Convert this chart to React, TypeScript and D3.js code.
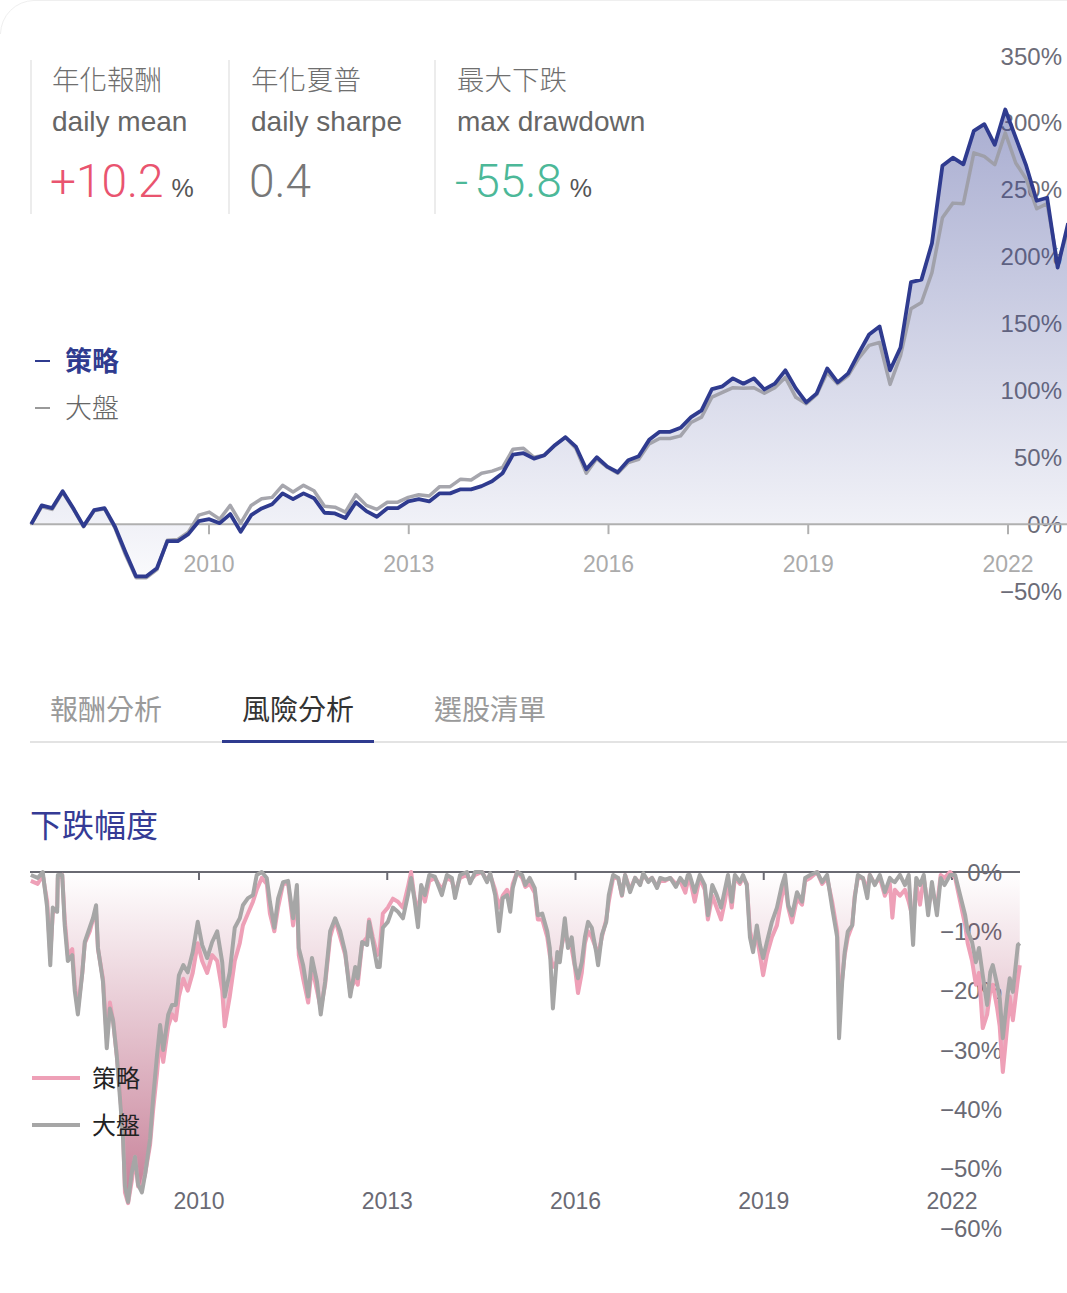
import React from 'react';
import * as d3 from 'd3';

// ---------- data ----------
const CUM_START = 2007.33; // first observation (fractional year)
const CUM_STEP = 0.1573; // spacing between observations (years)

const strategyCum = [
  0, 14, 12, 24.6, 12, -1.5, 10.4, 12, -2, -21,
  -39, -39, -33, -12.7, -12.7, -7.5, 2.2, 3.7, 0.7, 7.5,
  -5.7, 6.7, 11.7, 14.9, 23, 18.7, 23, 19.4, 8.5, 8,
  4.5, 16.4, 9.7, 5.5, 11.9, 11.9, 17, 18.7, 17, 23,
  23, 26, 26, 28.4, 32, 38, 52, 53, 49, 51.5,
  59, 65, 58, 41, 50, 43, 38.8, 47.8, 50.7, 63,
  69, 69, 72, 80, 85, 101, 103, 109, 105, 109,
  100.7, 105, 115, 101.5, 91, 97.8, 116.4, 106, 112.7, 127.6,
  141.8, 147.8, 115, 132, 181, 182.8, 210, 268, 274, 269,
  294, 299, 283.6, 310, 289, 268, 241.8, 244, 191.8, 225,
];

const benchmarkCum = [
  0, 13, 11, 24, 11.5, -2, 10, 11.5, -3, -23,
  -40, -40, -34, -12, -11.5, -6, 6.7, 9, 3.7, 14,
  0.7, 14, 19, 20, 29, 24, 29, 25, 13.4, 12.7,
  9, 22, 14, 11, 16.4, 16.4, 20, 22, 21, 28,
  28, 33.6, 33, 38, 39.6, 42.5, 56, 56.7, 50, 51.5,
  59, 65, 56.7, 38, 49, 42.5, 38, 46, 48.5, 60,
  64, 64, 66, 76, 80, 95, 98.5, 102, 101.5, 102,
  97.8, 102, 109.7, 94.8, 90, 97, 113.4, 105, 111, 123.9,
  133.6, 135.8, 104.5, 126, 161, 165.7, 188, 229, 240, 239.6,
  277.6, 275, 268.7, 292.5, 270, 258, 235.8, 239.6, 195, 220,
];

const cumTicksY = [350, 300, 250, 200, 150, 100, 50, 0, -50];
const yearTicks = [2010, 2013, 2016, 2019, 2022];

const ddYears = [
  2007.32, 2007.43, 2007.51, 2007.58, 2007.63, 2007.67, 2007.74, 2007.75, 2007.82, 2007.86,
  2007.91, 2007.98, 2008.02, 2008.07, 2008.14, 2008.18, 2008.26, 2008.31, 2008.36, 2008.39,
  2008.47, 2008.53, 2008.58, 2008.63, 2008.69, 2008.74, 2008.79, 2008.82, 2008.87, 2008.93,
  2008.98, 2009.03, 2009.09, 2009.14, 2009.22, 2009.27, 2009.33, 2009.38, 2009.43, 2009.51,
  2009.57, 2009.63, 2009.68, 2009.75, 2009.82, 2009.9, 2009.98, 2010.05, 2010.13, 2010.21,
  2010.29, 2010.37, 2010.41, 2010.49, 2010.57, 2010.65, 2010.7, 2010.78, 2010.86, 2010.92,
  2011.0, 2011.08, 2011.13, 2011.2, 2011.26, 2011.34, 2011.42, 2011.5, 2011.56, 2011.59,
  2011.66, 2011.74, 2011.8, 2011.88, 2011.94, 2012.01, 2012.09, 2012.17, 2012.25, 2012.33,
  2012.41, 2012.49, 2012.53, 2012.6, 2012.68, 2012.71, 2012.77, 2012.84, 2012.88, 2012.93,
  2013.01, 2013.09, 2013.17, 2013.25, 2013.33, 2013.38, 2013.43, 2013.49, 2013.54, 2013.6,
  2013.67, 2013.76, 2013.87, 2013.95, 2014.03, 2014.08, 2014.16, 2014.27, 2014.32, 2014.4,
  2014.51, 2014.59, 2014.64, 2014.72, 2014.78, 2014.84, 2014.91, 2014.96, 2015.0, 2015.07,
  2015.15, 2015.2, 2015.27, 2015.35, 2015.4, 2015.47, 2015.55, 2015.59, 2015.64, 2015.71,
  2015.75, 2015.83, 2015.88, 2015.94, 2015.99, 2016.04, 2016.1, 2016.15, 2016.2, 2016.26,
  2016.33, 2016.36, 2016.42, 2016.49, 2016.53, 2016.6, 2016.68, 2016.74, 2016.79, 2016.87,
  2016.95, 2017.03, 2017.08, 2017.16, 2017.22, 2017.3, 2017.35, 2017.43, 2017.51, 2017.6,
  2017.67, 2017.75, 2017.79, 2017.82, 2017.9, 2017.98, 2018.06, 2018.11, 2018.18, 2018.25,
  2018.32, 2018.38, 2018.43, 2018.49, 2018.54, 2018.62, 2018.67, 2018.73, 2018.78, 2018.83,
  2018.89, 2018.94, 2018.99, 2019.05, 2019.13, 2019.21, 2019.29, 2019.34, 2019.39, 2019.45,
  2019.53, 2019.61, 2019.66, 2019.74, 2019.85, 2019.93, 2020.01, 2020.09, 2020.17, 2020.2,
  2020.25, 2020.29, 2020.34, 2020.41, 2020.45, 2020.5, 2020.58, 2020.65, 2020.69, 2020.77,
  2020.85, 2020.93, 2021.01, 2021.05, 2021.09, 2021.17, 2021.25, 2021.31, 2021.38, 2021.43,
  2021.49, 2021.55, 2021.62, 2021.68, 2021.76, 2021.82, 2021.88, 2021.97, 2022.05, 2022.13,
  2022.21, 2022.25, 2022.32, 2022.38, 2022.43, 2022.49, 2022.56, 2022.61, 2022.65, 2022.72,
  2022.76, 2022.81, 2022.88, 2022.92, 2022.97, 2023.05, 2023.08,
];

const benchmarkDD = [
  -0.5, -1, 0, -6, -15.7, -6, -6.7, -0.5, -0.5, -9,
  -15, -14, -20, -24, -17, -11.8, -9.3, -7.8, -5.6, -12.8,
  -18.5, -29.7, -23, -25, -31, -38, -45, -53, -55.6, -50.6,
  -48, -52.7, -54, -51, -45, -38, -31, -25.8, -30, -24,
  -22.4, -22.4, -17.4, -15.7, -16.9, -13.5, -8.4, -12.3, -14.5, -11.8,
  -10, -15.2, -21, -16.9, -9.4, -7.8, -5.6, -4.4, -3.9, -0.5,
  0, -1, -5, -9.4, -4.5, -1.7, -1.5, -7.8, -2.2, -12.8,
  -15.7, -21, -14.5, -18.5, -24, -18.5, -10, -7.8, -10, -13.5,
  -21, -16, -17.9, -11.8, -12.3, -8.4, -11.8, -16, -16, -9.4,
  -8.4, -6, -6.7, -7.8, -3.9, -1, -4.4, -9.3, -2.2, -3.9,
  -0.5, -0.8, -3.9, -0.5, -1, -4.4, -0.5, 0, -1.9, 0,
  0, -1.7, -0.2, -3.9, -10, -4.4, -3.9, -6.7, -2.7, 0,
  -0.5, -2.2, -1, -2.7, -7.3, -7, -10, -12.8, -23, -13.5,
  -15.2, -7.8, -12.8, -11, -15.7, -17.9, -15.2, -11, -8.4, -9.4,
  -13.5, -15.7, -10.6, -8.4, -3.9, -0.5, -1, -3.9, -0.5, -3.4,
  -1, -2.2, -0.2, -1.7, -1, -2.7, -1, -1.3, -1, -2.5,
  -1, -2.2, -0.5, -0.5, -3.4, -0.5, -2.2, -7.3, -2.2, -3.9,
  -6, -3, -0.5, -5, -0.5, -1.7, -0.5, -2.2, -11, -13.5,
  -9, -12.3, -14.5, -11.8, -8.4, -6, -2.2, -0.5, -5.6, -7.3,
  -3.4, -5, -1, -0.5, 0, -1.7, -0.5, -6, -11, -28,
  -18.5, -13.5, -10, -9, -4.4, -0.5, -1, -4.4, -0.5, -2.2,
  -0.5, -3.4, -1, -1.5, -1.7, -0.5, -2.2, -0.5, -12.3, -1,
  -2.2, -0.5, -7.3, -1.7, -7.3, -1, -2.2, -0.5, -0.5, -3.9,
  -7.3, -10, -11.8, -15.2, -12.8, -17.4, -22.4, -16.9, -15.7, -19,
  -21.2, -28, -21.2, -17.9, -20.2, -12.3, -12,
];

const strategyDD = [
  -1.5, -2, -0.5, -5, -14, -7, -6, -1, -0.5, -8,
  -14, -13, -19, -23, -17, -12, -10, -8, -7, -13,
  -18, -28, -22, -25, -31, -37, -44, -54, -55.8, -52,
  -48, -53, -53, -51, -46, -40, -34, -28, -32, -26,
  -24, -25, -21, -18, -20, -17, -12, -15, -17, -14,
  -15, -20, -26, -21, -15, -12, -9, -7, -5, -3,
  -1, -2, -7, -10, -6, -2, -2, -9, -3, -14,
  -18, -22, -16, -20, -23, -19, -11, -8, -11, -14,
  -20, -18, -19, -12, -11, -8, -11, -14, -13, -7,
  -6, -4.5, -5, -6, -2.5, 0, -4, -7, -3, -5,
  -1.5, -1, -3, -1, -1.5, -3.5, -1, -0.5, -1.5, -0.5,
  0, -1.5, -0.5, -3, -6, -4, -3, -5, -2, 0,
  -1, -2.5, -2, -3.5, -8, -8, -11, -14, -16, -15,
  -14, -10, -12, -13, -16, -20.4, -17, -12, -10, -11,
  -13, -14, -11, -8, -5, -1, -1, -4, -0.5, -3,
  -1, -2, -0.5, -1.5, -1, -2.5, -1.5, -1.5, -1, -2,
  -1.5, -3.5, -1.5, -1, -5, -1, -3, -8, -4, -6,
  -8, -5, -1.5, -6, -1, -2, -1, -2, -10, -12,
  -11, -14, -17.4, -14, -11, -9, -4, -2, -6, -8.5,
  -4.5, -5.5, -1.5, -1, 0, -2, -1, -5, -10, -22,
  -18, -14, -11, -9, -4, -1, -1, -3, -0.5, -2,
  -1, -4, -2, -7.7, -3, -4, -3, -5, -8, -2,
  -5.5, -1, -6, -3, -6, -0.5, -1, 0, -1, -5,
  -9, -12, -15, -19, -17, -26.3, -24, -20, -19, -23,
  -26, -33.7, -26, -21, -25, -18, -15.7,
];

const ddTicksY = [0, -10, -20, -30, -40, -50, -60];

const statLabelsZh = ['年化報酬', '年化夏普', '最大下跌'];
const statLabelsEn = ['daily mean', 'daily sharpe', 'max drawdown'];
const statValues = ['+10.2', '0.4', '-55.8'];
const statUnits = ['%', '', '%'];
const tabLabels = ['報酬分析', '風險分析', '選股清單'];
const seriesNames = ['策略', '大盤'];
const ddTitle = '下跌幅度';

// ---------- styling ----------
const FONT = '"Liberation Sans", "Noto Sans CJK TC", sans-serif';
const CJK = '"Noto Sans CJK TC", "Liberation Sans", sans-serif';
const NUM = 'Roboto, "Liberation Sans", sans-serif';
const BLUE = '#2f3b8f';
const GRAY_LINE = '#a6a6a6';
const PINK = '#eea0b7';
const statColors = ['#e9546f', '#777777', '#4cb898'];

const pct = (v: number) => (v < 0 ? '\u2212' + Math.abs(v) : String(v)) + '%';

export default function App() {
  const W = 1067;
  const H = 1293;

  // top cumulative chart
  const xTop = d3.scaleLinear().domain([2010, 2022]).range([209, 1008]);
  const yTop = d3.scaleLinear().domain([-50, 350]).range([591, 56]);
  const cumYears = strategyCum.map((_, i) => CUM_START + i * CUM_STEP);
  const lineTop = d3
    .line<number>()
    .x((_, i) => xTop(cumYears[i]))
    .y((d) => yTop(d));
  const areaTop = d3
    .area<number>()
    .x((_, i) => xTop(cumYears[i]))
    .y0(yTop(0))
    .y1((d) => yTop(d));

  // drawdown chart
  const xDD = d3.scaleLinear().domain([2010, 2022]).range([199, 952]);
  const yDD = d3.scaleLinear().domain([-60, 0]).range([1228, 872]);
  const lineDD = d3
    .line<number>()
    .x((_, i) => xDD(ddYears[i]))
    .y((d) => yDD(d));
  const areaDD = d3
    .area<number>()
    .x((_, i) => xDD(ddYears[i]))
    .y0(yDD(0))
    .y1((d) => yDD(d));

  const statX = [52, 251, 457];
  const sepX = [31, 229, 435];
  const tabX = [50, 242, 434];

  const renderValue = (t: string) => {
    if (t.startsWith('-')) {
      return (
        <>
          <tspan>-</tspan>
          <tspan dx={6}>{t.slice(1)}</tspan>
        </>
      );
    }
    return t;
  };

  return (
    <div
      style={{
        position: 'absolute',
        left: 0,
        top: 0,
        width: W,
        height: H,
        overflow: 'hidden',
        background: '#fff',
      }}
    >
      <svg width={W} height={H} style={{ display: 'block', fontFamily: FONT }}>
        <defs>
          <linearGradient id="gTop" gradientUnits="userSpaceOnUse" x1="0" y1={yTop(350)} x2="0" y2={yTop(-50)}>
            <stop offset="0" stopColor="rgb(60,70,150)" stopOpacity={0.49} />
            <stop offset="1" stopColor="rgb(60,70,150)" stopOpacity={0.015} />
          </linearGradient>
          <linearGradient id="gDD" gradientUnits="userSpaceOnUse" x1="0" y1={yDD(0)} x2="0" y2={yDD(-60)}>
            <stop offset="0" stopColor="rgb(160,40,80)" stopOpacity={0} />
            <stop offset="1" stopColor="rgb(160,40,80)" stopOpacity={0.64} />
          </linearGradient>
        </defs>

        {/* card corner */}
        <path d="M0.5,34 A34,34 0 0 1 34,0.5 L1067,0.5" fill="none" stroke="#efefef" strokeWidth={1} />

        {/* stats */}
        {sepX.map((x, i) => (
          <line key={'sep' + i} x1={x} x2={x} y1={60} y2={214} stroke="#e6e6e6" strokeWidth={1.5} />
        ))}
        {statLabelsZh.map((t, i) => (
          <text key={'zh' + i} x={statX[i]} y={90} fontSize={27.5} fill="#6f6f6f" fontFamily={CJK} fontWeight={300}>
            {t}
          </text>
        ))}
        {statLabelsEn.map((t, i) => (
          <text key={'en' + i} x={statX[i]} y={131} fontSize={28} fill="#666">
            {t}
          </text>
        ))}
        {statValues.map((t, i) => (
          <text key={'v' + i} x={statX[i] - 2} y={197} fill={statColors[i]}>
            <tspan fontSize={46} fontFamily={NUM} fontWeight={300}>
              {renderValue(t)}
            </tspan>
            {statUnits[i] && (
              <tspan dx={8} fontSize={25} fill="#555">
                {statUnits[i]}
              </tspan>
            )}
          </text>
        ))}

        {/* top legend */}
        <line x1={35} x2={50} y1={361} y2={361} stroke={BLUE} strokeWidth={2} />
        <text x={65} y={371} fontSize={27} fill={BLUE} fontFamily={CJK} fontWeight={700}>
          {seriesNames[0]}
        </text>
        <line x1={35} x2={50} y1={408} y2={408} stroke="#777" strokeWidth={1.5} />
        <text x={65} y={418} fontSize={27} fill="#666" fontFamily={CJK} fontWeight={300}>
          {seriesNames[1]}
        </text>

        {/* top y labels */}
        {cumTicksY.map((v) => (
          <text key={'ty' + v} x={1062} y={yTop(v) + 8.5} textAnchor="end" fontSize={24} fill="#6c6c78">
            {pct(v)}
          </text>
        ))}

        {/* top area + lines */}
        <path d={areaTop(strategyCum) || ''} fill="url(#gTop)" />
        <line x1={30} x2={W} y1={yTop(0)} y2={yTop(0)} stroke="#b0b0b0" strokeWidth={2} />
        {yearTicks.map((yr) => (
          <g key={'tx' + yr}>
            <line x1={xTop(yr)} x2={xTop(yr)} y1={yTop(0)} y2={yTop(0) + 10} stroke="#b0b0b0" strokeWidth={2} />
            <text x={xTop(yr)} y={572} textAnchor="middle" fontSize={23} fill="#ababab">
              {yr}
            </text>
          </g>
        ))}
        <path
          d={lineTop(benchmarkCum) || ''}
          fill="none"
          stroke="#9c9ca4"
          strokeWidth={3.5}
          strokeLinejoin="round"
          strokeOpacity={0.9}
        />
        <path d={lineTop(strategyCum) || ''} fill="none" stroke={BLUE} strokeWidth={3.8} strokeLinejoin="round" />

        {/* tabs */}
        {tabLabels.map((t, i) => (
          <text
            key={'tab' + i}
            x={tabX[i]}
            y={720}
            fontSize={28}
            fontFamily={CJK}
            fill={i === 1 ? '#333' : '#9a9a9a'}
          >
            {t}
          </text>
        ))}
        <line x1={30} x2={W} y1={742} y2={742} stroke="#e3e3e3" strokeWidth={2} />
        <line x1={222} x2={374} y1={741.5} y2={741.5} stroke={BLUE} strokeWidth={3} />

        <text x={30} y={837} fontSize={32} fill="#353b95" fontFamily={CJK}>
          {ddTitle}
        </text>

        {/* drawdown y labels */}
        {ddTicksY.map((v) => (
          <text key={'dy' + v} x={1002} y={yDD(v) + 8.5} textAnchor="end" fontSize={24} fill="#6a6a74">
            {pct(v)}
          </text>
        ))}
        {yearTicks.map((yr) => (
          <text key={'dx' + yr} x={xDD(yr)} y={1209} textAnchor="middle" fontSize={23} fill="#6a6a74">
            {yr}
          </text>
        ))}

        {/* drawdown area + lines */}
        <path d={areaDD(strategyDD) || ''} fill="url(#gDD)" />
        <line x1={30} x2={1020} y1={yDD(0)} y2={yDD(0)} stroke="#6a6a72" strokeWidth={2} />
        {yearTicks.map((yr) => (
          <line
            key={'dt' + yr}
            x1={xDD(yr)}
            x2={xDD(yr)}
            y1={yDD(0)}
            y2={yDD(0) + 8}
            stroke="#6a6a72"
            strokeWidth={2}
          />
        ))}
        <path d={lineDD(strategyDD) || ''} fill="none" stroke={PINK} strokeWidth={4} strokeLinejoin="round" />
        <path d={lineDD(benchmarkDD) || ''} fill="none" stroke={GRAY_LINE} strokeWidth={4} strokeLinejoin="round" />

        {/* drawdown legend */}
        <line x1={32} x2={80} y1={1078} y2={1078} stroke={PINK} strokeWidth={4} />
        <text x={92} y={1087} fontSize={24} fill="#222" fontFamily={CJK}>
          {seriesNames[0]}
        </text>
        <line x1={32} x2={80} y1={1125} y2={1125} stroke={GRAY_LINE} strokeWidth={4} />
        <text x={92} y={1134} fontSize={24} fill="#222" fontFamily={CJK}>
          {seriesNames[1]}
        </text>
      </svg>
    </div>
  );
}
